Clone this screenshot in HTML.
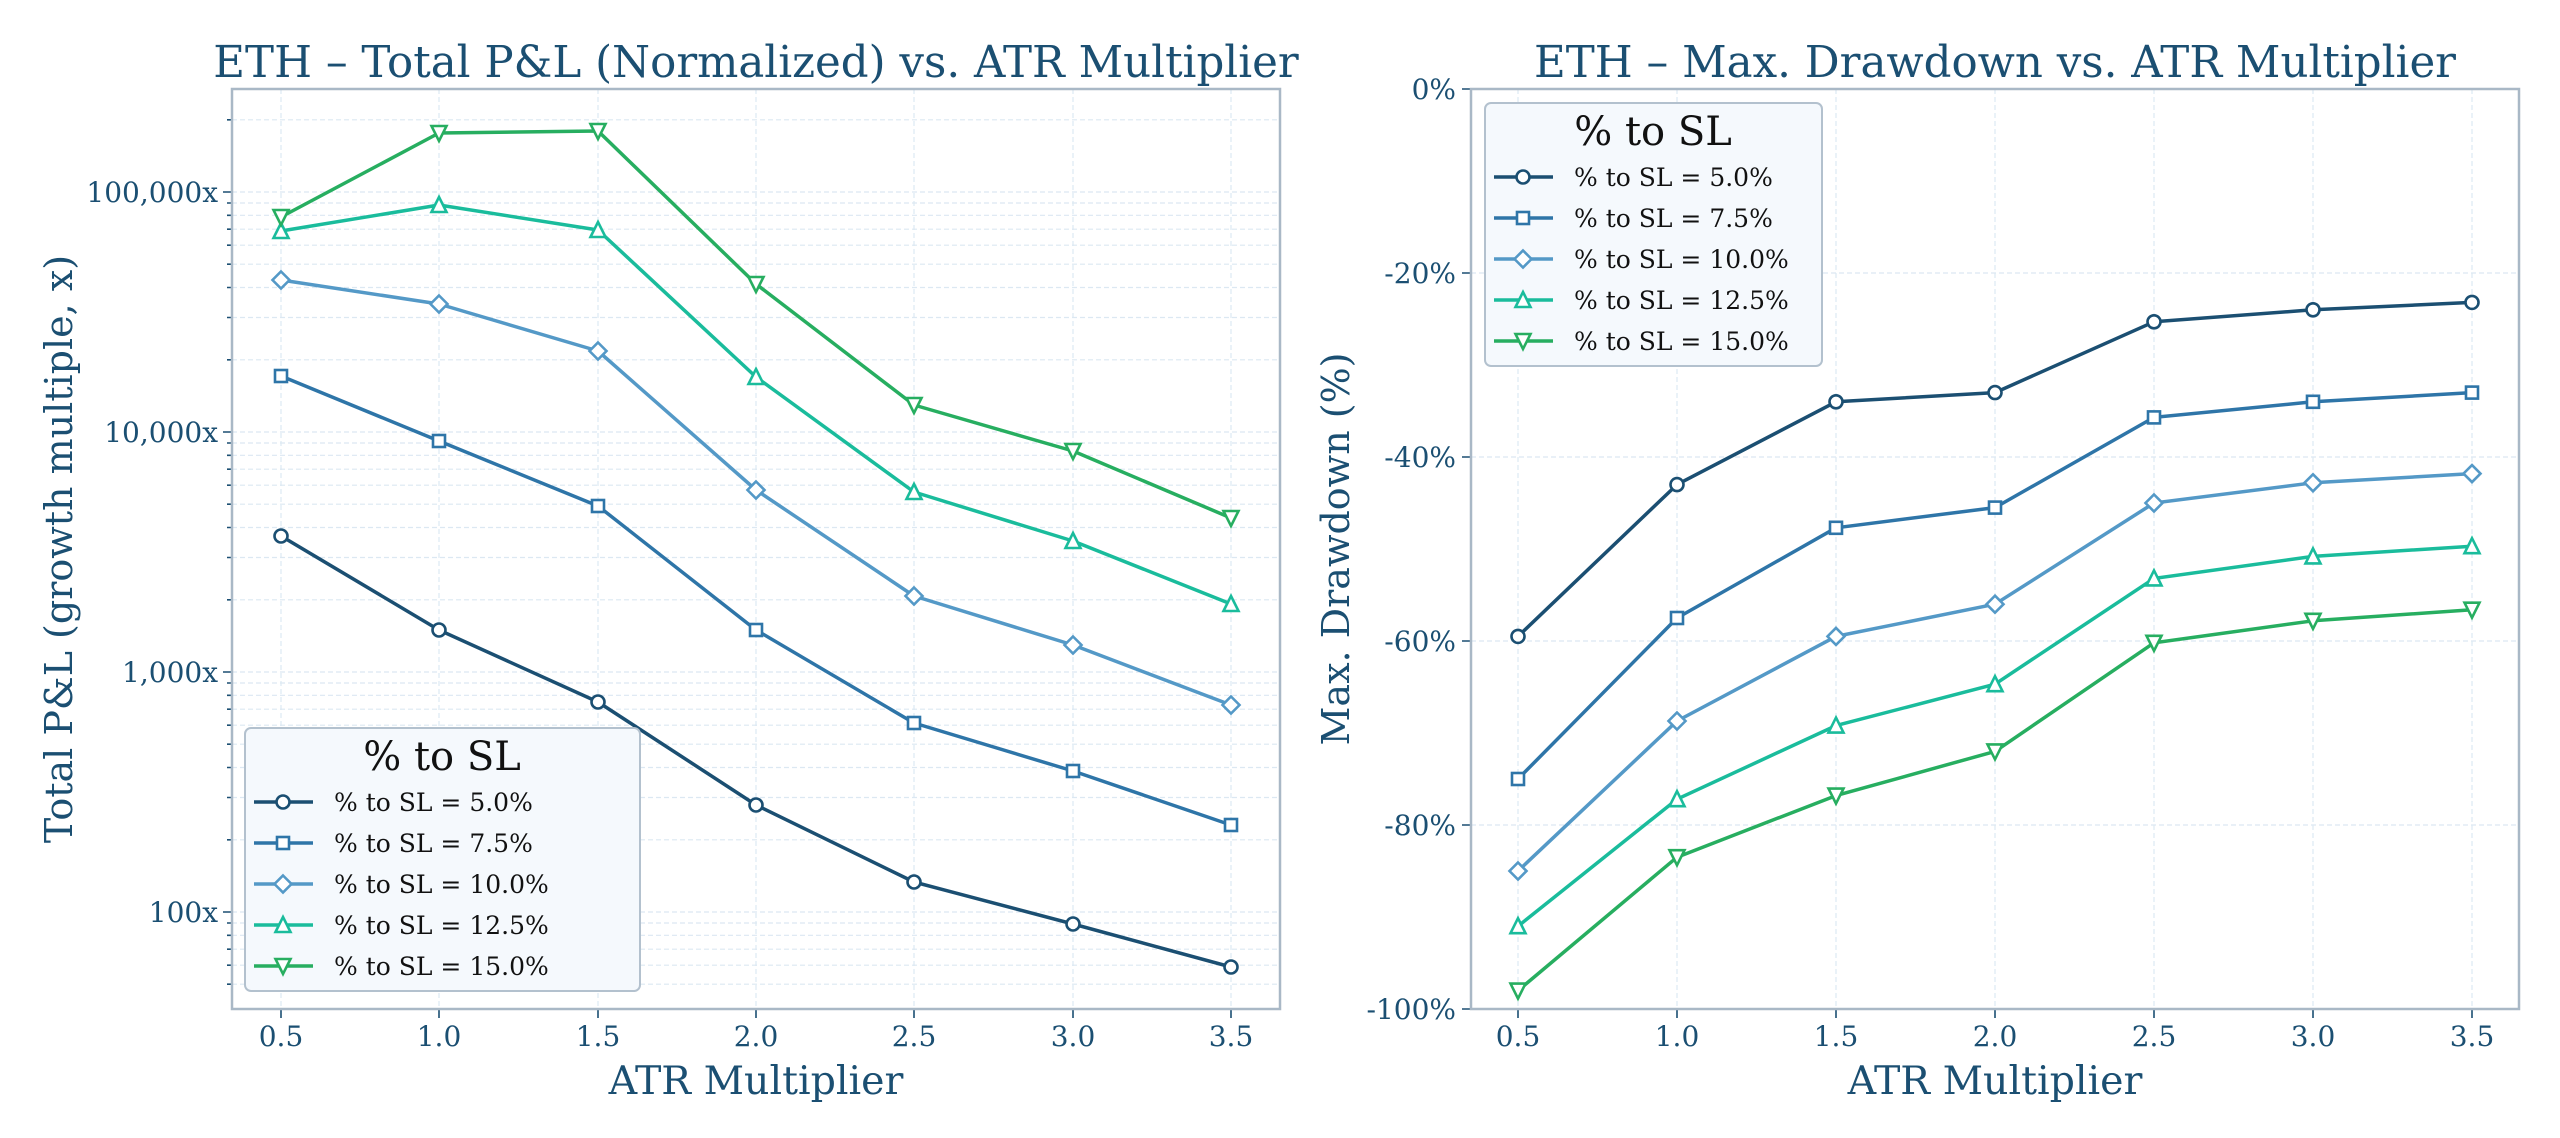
<!DOCTYPE html>
<html><head><meta charset="utf-8"><style>
html,body{margin:0;padding:0;background:#fff;}
svg{display:block;}
.t{font-family:"DejaVu Serif","Liberation Serif",serif;fill:#1b4f72;}
.l{font-family:"DejaVu Serif","Liberation Serif",serif;fill:#111;}
</style></head><body>
<svg width="2560" height="1138" viewBox="0 0 2560 1138" xmlns="http://www.w3.org/2000/svg">
<defs>
<marker id="mc" markerUnits="userSpaceOnUse" markerWidth="20" markerHeight="20" refX="10" refY="10"><circle cx="10" cy="10" r="6.5" fill="#fff" stroke="#1b4f72" stroke-width="2.6"/></marker>
<marker id="ms" markerUnits="userSpaceOnUse" markerWidth="20" markerHeight="20" refX="10" refY="10"><rect x="4" y="4" width="12" height="12" fill="#fff" stroke="#2e75a8" stroke-width="2.6"/></marker>
<marker id="md" markerUnits="userSpaceOnUse" markerWidth="22" markerHeight="22" refX="11" refY="11"><polygon points="11,2.5 19.5,11 11,19.5 2.5,11" fill="#fff" stroke="#5499c7" stroke-width="2.6"/></marker>
<marker id="mu" markerUnits="userSpaceOnUse" markerWidth="22" markerHeight="22" refX="11" refY="11"><polygon points="11,3 18.5,18 3.5,18" fill="#fff" stroke="#1abc9c" stroke-width="2.6"/></marker>
<marker id="mv" markerUnits="userSpaceOnUse" markerWidth="22" markerHeight="22" refX="11" refY="11"><polygon points="3.5,4 18.5,4 11,19" fill="#fff" stroke="#27ae60" stroke-width="2.6"/></marker>
</defs>

<!-- LEFT AXES grid -->
<g stroke="#dce8f2" stroke-width="1.2" stroke-dasharray="5,3" fill="none">
<path d="M232 192H1280M232 432H1280M232 672H1280M232 912H1280"/>
<path d="M232 839.8H1280M232 797.5H1280M232 767.5H1280M232 744.2H1280M232 725.2H1280M232 709.2H1280M232 695.3H1280M232 683H1280
M232 599.8H1280M232 557.5H1280M232 527.5H1280M232 504.2H1280M232 485.2H1280M232 469.2H1280M232 455.3H1280M232 443H1280
M232 359.8H1280M232 317.5H1280M232 287.5H1280M232 264.2H1280M232 245.2H1280M232 229.2H1280M232 215.3H1280M232 203H1280
M232 119.8H1280M232 923H1280M232 935.3H1280M232 949.2H1280M232 965.2H1280M232 984.2H1280"/>
<path d="M281 89V1009M439 89V1009M598 89V1009M756 89V1009M914 89V1009M1073 89V1009M1231 89V1009"/>
</g>
<g stroke="#1b4f72" stroke-width="1.6">
<path d="M223 192H232M223 432H232M223 672H232M223 912H232"/>
<path d="M227 839.8H232M227 797.5H232M227 767.5H232M227 744.2H232M227 725.2H232M227 709.2H232M227 695.3H232M227 683H232M227 599.8H232M227 557.5H232M227 527.5H232M227 504.2H232M227 485.2H232M227 469.2H232M227 455.3H232M227 443H232M227 359.8H232M227 317.5H232M227 287.5H232M227 264.2H232M227 245.2H232M227 229.2H232M227 215.3H232M227 203H232M227 119.8H232M227 923H232M227 935.3H232M227 949.2H232M227 965.2H232M227 984.2H232"/>
<path d="M281 1009V1018M439 1009V1018M598 1009V1018M756 1009V1018M914 1009V1018M1073 1009V1018M1231 1009V1018"/>
</g>
<rect x="232" y="89" width="1048" height="920" fill="none" stroke="#a9b8c6" stroke-width="2.5"/>
<g class="t" font-size="28" text-anchor="end">
<text x="218" y="202">100,000x</text><text x="218" y="442">10,000x</text><text x="218" y="682">1,000x</text><text x="218" y="922">100x</text>
</g>
<g class="t" font-size="28" text-anchor="middle">
<text x="281" y="1046">0.5</text><text x="439" y="1046">1.0</text><text x="598" y="1046">1.5</text><text x="756" y="1046">2.0</text><text x="914" y="1046">2.5</text><text x="1073" y="1046">3.0</text><text x="1231" y="1046">3.5</text>
</g>
<text class="t" font-size="43.5" x="756" y="77" text-anchor="middle">ETH – Total P&amp;L (Normalized) vs. ATR Multiplier</text>
<text class="t" font-size="39.5" x="756" y="1094" text-anchor="middle">ATR Multiplier</text>
<text class="t" font-size="38" x="0" y="0" text-anchor="middle" transform="translate(72 549) rotate(-90)">Total P&amp;L (growth multiple, x)</text>

<g fill="none" stroke-width="3.5" stroke-linejoin="round">
<polyline stroke="#1b4f72" marker-start="url(#mc)" marker-mid="url(#mc)" marker-end="url(#mc)" points="281,536 439,630 598,702 756,805 914,882 1073,924 1231,967"/>
<polyline stroke="#2e75a8" marker-start="url(#ms)" marker-mid="url(#ms)" marker-end="url(#ms)" points="281,376 439,441 598,506 756,630 914,723 1073,771 1231,825"/>
<polyline stroke="#5499c7" marker-start="url(#md)" marker-mid="url(#md)" marker-end="url(#md)" points="281,280 439,304 598,351 756,490 914,596 1073,645 1231,705"/>
<polyline stroke="#1abc9c" marker-start="url(#mu)" marker-mid="url(#mu)" marker-end="url(#mu)" points="281,231 439,205 598,230 756,377 914,492 1073,541 1231,604"/>
<polyline stroke="#27ae60" marker-start="url(#mv)" marker-mid="url(#mv)" marker-end="url(#mv)" points="281,217 439,133 598,131 756,284 914,405 1073,451 1231,518"/>
</g>

<!-- left legend -->
<g transform="translate(245 728)">
<rect x="0" y="0" width="395" height="263" rx="6" fill="#f5f9fd" stroke="#b3c1ce" stroke-width="2"/>
<text class="l" font-size="40" x="197" y="42" text-anchor="middle">% to SL</text>
<g fill="none" stroke-width="3.5">
<polyline stroke="#1b4f72" marker-mid="url(#mc)" points="9,74 38,74 68,74"/>
<polyline stroke="#2e75a8" marker-mid="url(#ms)" points="9,115 38,115 68,115"/>
<polyline stroke="#5499c7" marker-mid="url(#md)" points="9,156 38,156 68,156"/>
<polyline stroke="#1abc9c" marker-mid="url(#mu)" points="9,197 38,197 68,197"/>
<polyline stroke="#27ae60" marker-mid="url(#mv)" points="9,238 38,238 68,238"/>
</g>
<g class="l" font-size="25">
<text x="89" y="83">% to SL = 5.0%</text><text x="89" y="124">% to SL = 7.5%</text><text x="89" y="165">% to SL = 10.0%</text><text x="89" y="206">% to SL = 12.5%</text><text x="89" y="247">% to SL = 15.0%</text>
</g>
</g>

<!-- RIGHT AXES -->
<g stroke="#dce8f2" stroke-width="1.2" stroke-dasharray="5,3" fill="none">
<path d="M1471 273H2519M1471 457H2519M1471 641H2519M1471 825H2519"/>
<path d="M1518 89V1009M1677 89V1009M1836 89V1009M1995 89V1009M2154 89V1009M2313 89V1009M2472 89V1009"/>
</g>
<g stroke="#1b4f72" stroke-width="1.6">
<path d="M1462 89H1471M1462 273H1471M1462 457H1471M1462 641H1471M1462 825H1471M1462 1009H1471"/>
<path d="M1518 1009V1018M1677 1009V1018M1836 1009V1018M1995 1009V1018M2154 1009V1018M2313 1009V1018M2472 1009V1018"/>
</g>
<rect x="1471" y="89" width="1048" height="920" fill="none" stroke="#a9b8c6" stroke-width="2.5"/>
<g class="t" font-size="28" text-anchor="end">
<text x="1456" y="99">0%</text><text x="1456" y="283">-20%</text><text x="1456" y="467">-40%</text><text x="1456" y="651">-60%</text><text x="1456" y="835">-80%</text><text x="1456" y="1019">-100%</text>
</g>
<g class="t" font-size="28" text-anchor="middle">
<text x="1518" y="1046">0.5</text><text x="1677" y="1046">1.0</text><text x="1836" y="1046">1.5</text><text x="1995" y="1046">2.0</text><text x="2154" y="1046">2.5</text><text x="2313" y="1046">3.0</text><text x="2472" y="1046">3.5</text>
</g>
<text class="t" font-size="43.5" x="1995" y="77" text-anchor="middle">ETH – Max. Drawdown vs. ATR Multiplier</text>
<text class="t" font-size="39.5" x="1995" y="1094" text-anchor="middle">ATR Multiplier</text>
<text class="t" font-size="38" x="0" y="0" text-anchor="middle" transform="translate(1349 549) rotate(-90)">Max. Drawdown (%)</text>

<g fill="none" stroke-width="3.5" stroke-linejoin="round">
<polyline stroke="#1b4f72" marker-start="url(#mc)" marker-mid="url(#mc)" marker-end="url(#mc)" points="1518,636.4 1677,484.6 1836,401.8 1995,392.6 2154,321.8 2313,309.8 2472,302.4"/>
<polyline stroke="#2e75a8" marker-start="url(#ms)" marker-mid="url(#ms)" marker-end="url(#ms)" points="1518,779 1677,618 1836,527.8 1995,507.6 2154,417.4 2313,401.8 2472,392.6"/>
<polyline stroke="#5499c7" marker-start="url(#md)" marker-mid="url(#md)" marker-end="url(#md)" points="1518,871 1677,721 1836,636.4 1995,604.2 2154,503 2313,482.8 2472,473.6"/>
<polyline stroke="#1abc9c" marker-start="url(#mu)" marker-mid="url(#mu)" marker-end="url(#mu)" points="1518,926.2 1677,799.2 1836,725.6 1995,684.2 2154,578.4 2313,556.4 2472,546.2"/>
<polyline stroke="#27ae60" marker-start="url(#mv)" marker-mid="url(#mv)" marker-end="url(#mv)" points="1518,990.6 1677,857.2 1836,795.6 1995,751.4 2154,642.8 2313,620.8 2472,609.7"/>
</g>

<!-- right legend -->
<g transform="translate(1485 103)">
<rect x="0" y="0" width="337" height="263" rx="6" fill="#f5f9fd" stroke="#b3c1ce" stroke-width="2"/>
<text class="l" font-size="40" x="168" y="42" text-anchor="middle">% to SL</text>
<g fill="none" stroke-width="3.5">
<polyline stroke="#1b4f72" marker-mid="url(#mc)" points="9,74 38,74 68,74"/>
<polyline stroke="#2e75a8" marker-mid="url(#ms)" points="9,115 38,115 68,115"/>
<polyline stroke="#5499c7" marker-mid="url(#md)" points="9,156 38,156 68,156"/>
<polyline stroke="#1abc9c" marker-mid="url(#mu)" points="9,197 38,197 68,197"/>
<polyline stroke="#27ae60" marker-mid="url(#mv)" points="9,238 38,238 68,238"/>
</g>
<g class="l" font-size="25">
<text x="89" y="83">% to SL = 5.0%</text><text x="89" y="124">% to SL = 7.5%</text><text x="89" y="165">% to SL = 10.0%</text><text x="89" y="206">% to SL = 12.5%</text><text x="89" y="247">% to SL = 15.0%</text>
</g>
</g>
</svg>
</body></html>
